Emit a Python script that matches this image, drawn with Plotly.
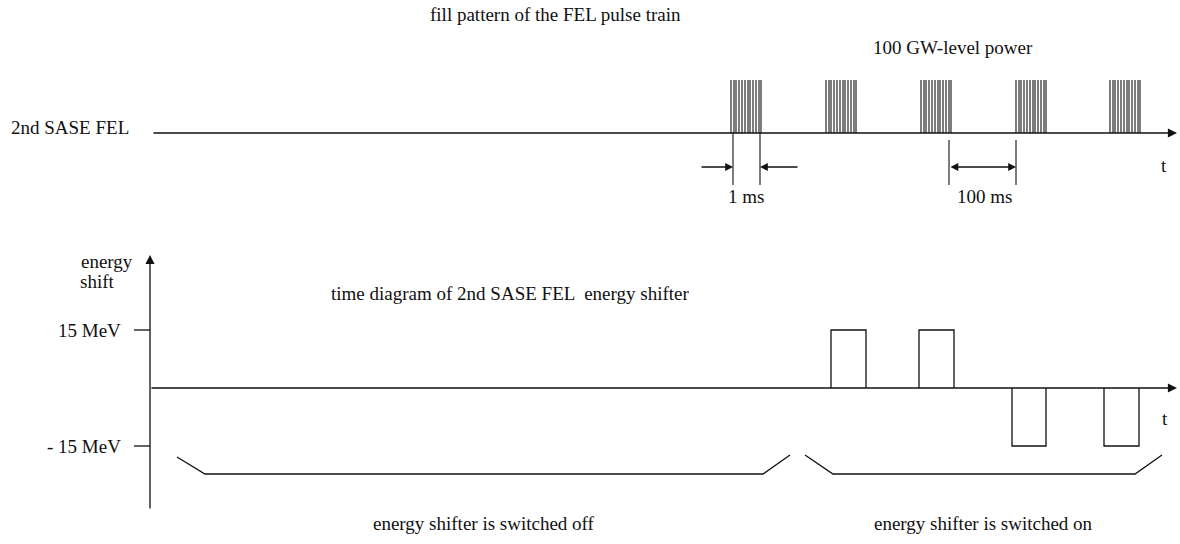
import plotly.graph_objects as go

# --- schematic data (diagram time units along x, pixel-like units for the top trace) ---
BURST_STARTS = [731, 826, 921, 1016, 1110]          # start of each macro pulse (FEL pulse train)
PULSE_OFFSETS = [0, 3, 5, 8, 11, 14, 17, 19, 22, 25, 28, 30]  # micro pulses inside a burst
BURST_HEIGHT = 53                                    # height of the micro-pulse lines
TRAIN_LEVEL = 133                                    # baseline of the pulse train

SHIFT_STARTS = [831, 919, 1012, 1104]
SHIFT_ENDS = [866, 954, 1046, 1139]
SHIFT_LEVELS = [15, 15, -15, -15]                    # MeV
TICK_LEVELS = [15, -15]
TICK_LABELS = ["15 MeV", "- 15 MeV"]

BRACE_X = [[177, 205, 763, 790], [805, 833, 1135, 1162]]
BRACE_Y = [[457, 474, 474, 455], [455, 474, 474, 455]]
BRACE_LABELS = ["energy shifter is switched off", "energy shifter is switched on"]

W, H = 1180, 544
ZERO_PX, PX_PER_MEV = 388, 58 / 15
INK = "#111111"
FONT = "Liberation Serif"
FS = 19


def mev_to_px(v):
    return ZERO_PX - v * PX_PER_MEV


fig = go.Figure()

# pulse train: micro-pulse lines
xs, ys = [], []
for s in BURST_STARTS:
    for o in PULSE_OFFSETS:
        xs += [s + o, s + o, None]
        ys += [TRAIN_LEVEL, TRAIN_LEVEL - BURST_HEIGHT, None]
fig.add_trace(go.Scatter(x=xs, y=ys, mode="lines", line=dict(color=INK, width=1.1), hoverinfo="skip"))

# marker lines for "1 ms" and "100 ms"
mx, my = [], []
for x0, y0 in [(733, 133), (760, 133), (949, 140), (1016, 140)]:
    mx += [x0, x0, None]
    my += [y0, 185, None]
fig.add_trace(go.Scatter(x=mx, y=my, mode="lines", line=dict(color=INK, width=1.1), hoverinfo="skip"))

# energy shifter pulses
ex, ey = [], []
for s, e, lv in zip(SHIFT_STARTS, SHIFT_ENDS, SHIFT_LEVELS):
    ex += [s, s, e, e, None]
    ey += [0, lv, lv, 0, None]
fig.add_trace(go.Scatter(x=ex, y=ey, yaxis="y2", mode="lines",
                         line=dict(color=INK, width=1.3), hoverinfo="skip"))

# ticks on the energy axis
tx, ty = [], []
for lv in TICK_LEVELS:
    tx += [134, 150, None]
    ty += [lv, lv, None]
fig.add_trace(go.Scatter(x=tx, y=ty, yaxis="y2", mode="lines",
                         line=dict(color=INK, width=1.3), hoverinfo="skip"))

# braces
for bx, by in zip(BRACE_X, BRACE_Y):
    fig.add_trace(go.Scatter(x=bx, y=by, mode="lines", line=dict(color=INK, width=1.3), hoverinfo="skip"))

anns = []


def arrow(x0, y0, x1, y1, size=1.4, width=1.3, head=2, start=False):
    a = dict(x=x1, y=y1, ax=x0, ay=y0, xref="x", yref="y", axref="x", ayref="y",
             text="", showarrow=True, arrowhead=head, arrowsize=size, arrowwidth=width,
             arrowcolor=INK, standoff=0, startstandoff=0)
    if start:
        a.update(arrowside="end+start", startarrowhead=head, startarrowsize=size)
    anns.append(a)


# axes lines with arrowheads
arrow(152, TRAIN_LEVEL, 1177, TRAIN_LEVEL, size=1.4)
arrow(150, mev_to_px(0), 1177, mev_to_px(0), size=1.4)
arrow(150, 510, 150, 255, size=1.4)

# 1 ms and 100 ms arrows
arrow(700, 167, 733, 167, size=1.2)
arrow(799, 167, 760, 167, size=1.2)
arrow(949, 167, 1016, 167, size=1.2, start=True)


def label(text, x, y, anchor="center", size=FS):
    anns.append(dict(x=x, y=y, xref="x", yref="y", text=text, showarrow=False,
                     xanchor=anchor, yanchor="middle",
                     font=dict(family=FONT, size=size, color=INK)))


label("fill pattern of the FEL pulse train", 555, 14)
label("100 GW-level power", 953, 47)
label("2nd SASE FEL", 131, 127, anchor="right")
label("t", 1164, 165)
label("1 ms", 746, 196)
label("100 ms", 984, 196)
label("energy", 107, 261)
label("shift", 97, 281)
for lv, txt in zip(TICK_LEVELS, TICK_LABELS):
    label(txt, 123, mev_to_px(lv), anchor="right")
label("time diagram of 2nd SASE FEL  energy shifter", 329, 293, anchor="left")
label("t", 1165, 418)
for bx, txt in zip(BRACE_X, BRACE_LABELS):
    label(txt, (bx[0] + bx[-1]) / 2, 523)

fig.update_layout(
    width=W, height=H, margin=dict(l=0, r=0, t=0, b=0),
    paper_bgcolor="white", plot_bgcolor="white", showlegend=False,
    xaxis=dict(range=[0, W], visible=False, fixedrange=True),
    yaxis=dict(range=[H, 0], visible=False, fixedrange=True),
    yaxis2=dict(range=[(ZERO_PX - H) / PX_PER_MEV, ZERO_PX / PX_PER_MEV],
                overlaying="y", visible=False, fixedrange=True),
    annotations=anns,
)

fig.write_html("out.html", config={"displayModeBar": False},
               post_script="document.body.style.margin='0';document.body.style.overflow='hidden';")
